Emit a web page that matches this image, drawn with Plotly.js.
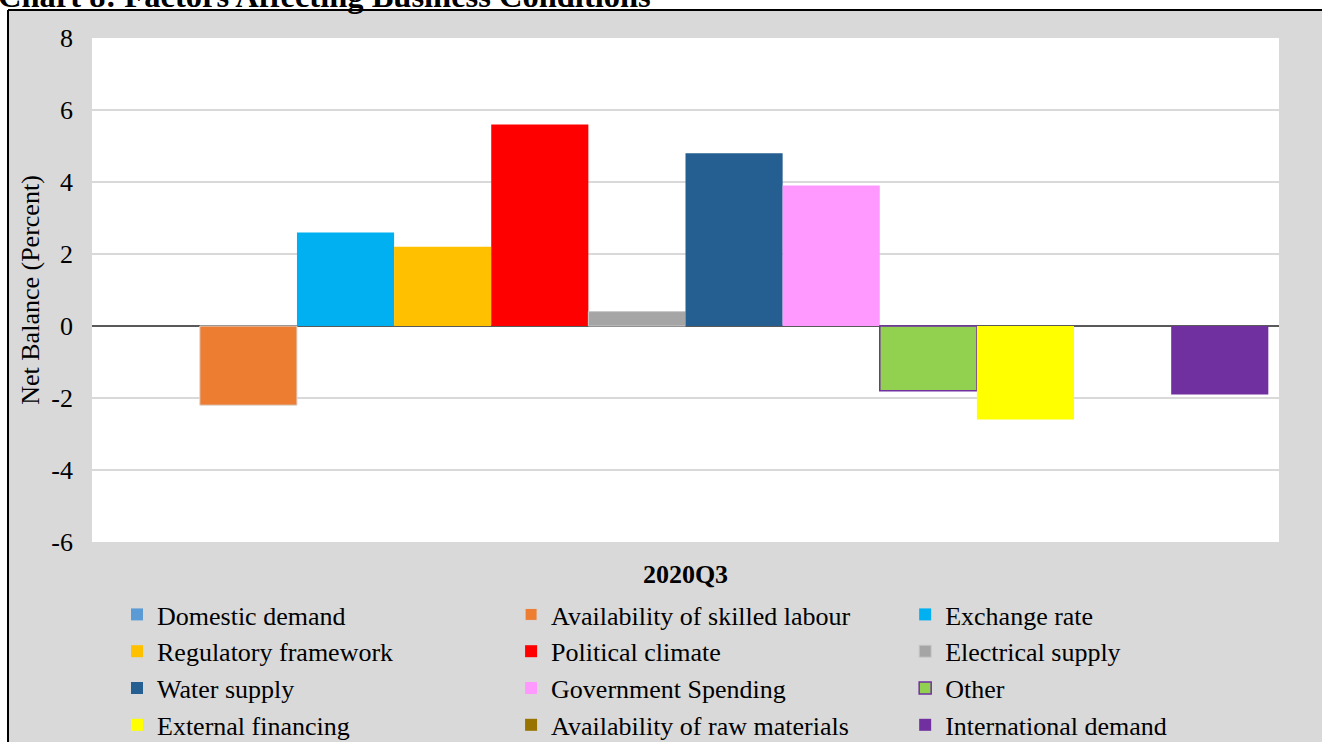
<!DOCTYPE html>
<html>
<head>
<meta charset="utf-8">
<script src="https://cdn.plot.ly/plotly-3.0.1.min.js"></script>
<style>
  html, body { margin: 0; padding: 0; background: #ffffff; }
  #chart { width: 1322px; height: 742px; }
</style>
</head>
<body>
<div id="chart"></div>
<script>
// Survey period (single category on the x axis)
const period = ['2020Q3'];

// Factors, in legend order
const factors = [
  'Domestic demand',
  'Availability of skilled labour',
  'Exchange rate',
  'Regulatory framework',
  'Political climate',
  'Electrical supply',
  'Water supply',
  'Government Spending',
  'Other',
  'External financing',
  'Availability of raw materials',
  'International demand'
];

// Net balance, percent
const netBalance = [0, -2.2, 2.6, 2.2, 5.6, 0.4, 4.8, 3.9, -1.8, -2.6, 0, -1.9];

// Y axis ticks
const yTicks = [-6, -4, -2, 0, 2, 4, 6, 8];

// Palette
const fillColors = [
  '#5b9bd5', '#ed7d31', '#00b0f0', '#ffc000', '#ff0000', '#a5a5a5',
  '#255e91', '#ff99ff', '#92d050', '#ffff00', '#997300', '#7030a0'
];
const outlineColors = [
  '#5b9bd5', '#d9d9d9', '#00b0f0', '#ffc000', '#ff0000', '#c8c8c8',
  '#255e91', '#ff99ff', '#7030a0', '#ffff00', '#997300', '#7030a0'
];
const outlineWidths = [0, 1, 0, 0, 0, 1, 0, 0, 1.5, 0, 0, 0];

const W = 1322, H = 742;
const M = { l: 92, r: 43, t: 38, b: 200, autoexpand: false };
const plotW = W - M.l - M.r;
const plotH = H - M.t - M.b;
// pixel -> paper coordinates for decorations
const px = x => (x - M.l) / plotW;
const py = y => (H - M.b - y) / plotH;

const serif = 'Liberation Serif';

const traces = factors.map((name, i) => ({
  type: 'bar',
  name: name,
  x: period,
  y: [netBalance[i]],
  marker: {
    color: fillColors[i],
    line: { color: outlineColors[i], width: outlineWidths[i] }
  },
  hoverinfo: 'name+y'
}));

const layout = {
  width: W,
  height: H,
  margin: M,
  paper_bgcolor: '#d9d9d9',
  plot_bgcolor: '#ffffff',
  barmode: 'group',
  bargap: 0.018,
  bargroupgap: 0,
  font: { family: serif, color: '#000000', size: 26 },
  showlegend: true,
  legend: {
    orientation: 'h',
    x: px(117),
    xanchor: 'left',
    y: py(591),
    yanchor: 'top',
    entrywidthmode: 'fraction',
    entrywidth: 0.332,
    traceorder: 'normal',
    bgcolor: 'rgba(0,0,0,0)',
    font: { family: serif, size: 26, color: '#000000' }
  },
  xaxis: {
    type: 'category',
    showgrid: false,
    showline: false,
    ticks: '',
    ticklabelstandoff: 14,
    tickfont: { family: serif, size: 26, color: '#000000', weight: 'bold' }
  },
  yaxis: {
    range: [-6, 8],
    tickvals: yTicks,
    ticktext: yTicks.map(String),
    showgrid: true,
    gridcolor: '#d9d9d9',
    gridwidth: 1.5,
    zeroline: true,
    zerolinecolor: '#595959',
    zerolinewidth: 1.2,
    showline: false,
    ticks: '',
    ticklabelstandoff: 18,
    tickfont: { family: serif, size: 26, color: '#000000' },
    title: {
      text: 'Net Balance (Percent)',
      font: { family: serif, size: 26, color: '#000000' },
      standoff: 4
    }
  },
  shapes: [
    // white page strips outside the chart frame
    { type: 'rect', xref: 'paper', yref: 'paper', x0: px(-5), x1: px(8), y0: py(760), y1: py(-5),
      fillcolor: '#ffffff', line: { width: 0 }, layer: 'above' },
    { type: 'rect', xref: 'paper', yref: 'paper', x0: px(-5), x1: px(1330), y0: py(10), y1: py(-5),
      fillcolor: '#ffffff', line: { width: 0 }, layer: 'above' },
    // chart frame
    { type: 'line', xref: 'paper', yref: 'paper', x0: px(8), x1: px(8), y0: py(10), y1: py(760),
      line: { color: '#000000', width: 2 }, layer: 'above' },
    { type: 'line', xref: 'paper', yref: 'paper', x0: px(8), x1: px(1330), y0: py(10), y1: py(10),
      line: { color: '#000000', width: 2 }, layer: 'above' }
  ],
  annotations: [
    {
      text: 'Chart 8: Factors Affecting Business Conditions',
      xref: 'paper', yref: 'paper',
      x: px(-4), y: py(-4),
      xanchor: 'left', yanchor: 'middle',
      showarrow: false,
      font: { family: serif, size: 32.5, color: '#000000', weight: 'bold' }
    }
  ]
};

Plotly.newPlot('chart', traces, layout, { displayModeBar: false, staticPlot: true });
</script>
</body>
</html>
